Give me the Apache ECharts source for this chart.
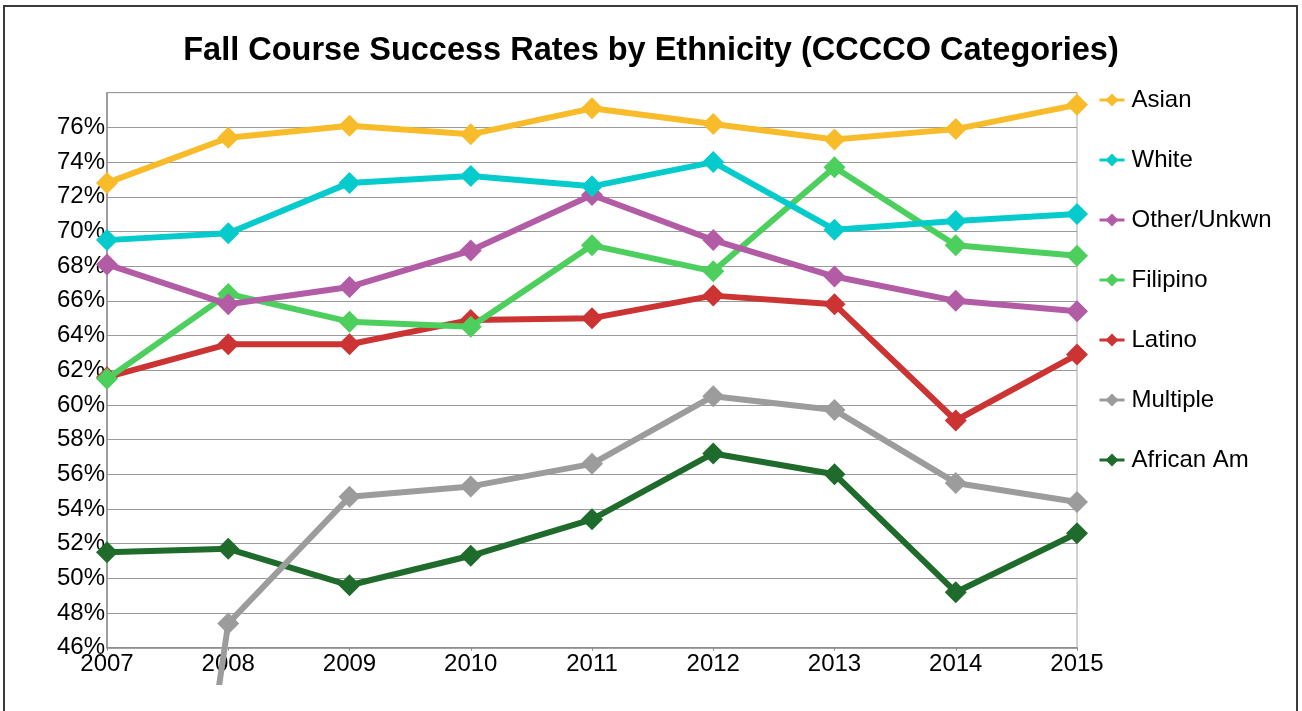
<!DOCTYPE html>
<html>
<head>
<meta charset="utf-8">
<script src="https://cdn.jsdelivr.net/npm/echarts@6/dist/echarts.min.js"></script>
<style>
  html, body { margin: 0; padding: 0; background: #ffffff; overflow: hidden; }
  #frame { position: absolute; left: 3px; top: 5px; width: 1295px; height: 800px;
           box-sizing: border-box; border: 2px solid #3a3a3a; }
  #chart { position: absolute; left: 0; top: 0; width: 1302px; height: 685px; }
</style>
</head>
<body>
<div id="frame"></div>
<div id="chart"></div>
<script>
// ---- data ----
const years = ['2007', '2008', '2009', '2010', '2011', '2012', '2013', '2014', '2015'];
const asian      = [72.8, 75.4, 76.1, 75.6, 77.1, 76.2, 75.3, 75.9, 77.3];
const white      = [69.5, 69.9, 72.8, 73.2, 72.6, 74.0, 70.1, 70.6, 71.0];
const otherUnkwn = [68.1, 65.8, 66.8, 68.9, 72.1, 69.5, 67.4, 66.0, 65.4];
const filipino   = [61.5, 66.4, 64.8, 64.5, 69.2, 67.7, 73.7, 69.2, 68.6];
const latino     = [61.6, 63.5, 63.5, 64.9, 65.0, 66.3, 65.8, 59.1, 62.9];
const multiple   = [0, 47.4, 54.7, 55.3, 56.6, 60.5, 59.7, 55.5, 54.4];
const africanAm  = [51.5, 51.7, 49.6, 51.3, 53.4, 57.2, 56.0, 49.2, 52.6];
const seriesNames = ['Asian', 'White', 'Other/Unkwn', 'Filipino', 'Latino', 'Multiple', 'African Am'];
const seriesValues = [asian, white, otherUnkwn, filipino, latino, multiple, africanAm];
const yMin = 46, yMax = 78, yStep = 2;
const titleText = 'Fall Course Success Rates by Ethnicity (CCCCO Categories)';

// ---- styles ----
const colors = ['#f8bc2b', '#05cbcc', '#b35ca6', '#4dcf5e', '#cc3333', '#9c9c9c', '#1f6b2c'];
const FONT = '"Liberation Sans", Arial, sans-serif';

const chart = echarts.init(document.getElementById('chart'), null, { renderer: 'canvas' });
const series = seriesNames.map((name, i) => ({
  name: name,
  type: 'line',
  data: seriesValues[i],
  clip: false,
  z: 20 - i,
  symbol: 'diamond',
  symbolSize: 22,
  showAllSymbol: true,
  color: colors[i],
  lineStyle: { width: 6, color: colors[i] },
  itemStyle: { color: colors[i] },
  emphasis: { disabled: true },
  animation: false
}));

chart.setOption({
  animation: false,
  backgroundColor: 'transparent',
  title: {
    text: titleText,
    left: 'center',
    top: 30,
    textStyle: { fontFamily: FONT, fontSize: 32.5, fontWeight: 'bold', color: '#000' }
  },
  legend: {
    orient: 'vertical',
    left: 1098,
    top: 88,
    data: seriesNames,
    itemWidth: 25,
    itemHeight: 16,
    itemGap: 36,
    padding: 0,
    lineStyle: { width: 3 },
    textStyle: { fontFamily: FONT, fontSize: 24, color: '#000', padding: [0, 0, 0, 2] }
  },
  grid: {
    left: 107,
    right: 225,
    top: 92.7,
    bottom: 37.3,
    show: true,
    borderColor: '#a6a6a6',
    borderWidth: 1,
    containLabel: false
  },
  xAxis: {
    type: 'category',
    data: years,
    boundaryGap: false,
    axisLine: { show: true, lineStyle: { color: '#8c8c8c', width: 1.5 } },
    axisTick: { show: true, alignWithLabel: true, length: 3, lineStyle: { color: '#8c8c8c' } },
    axisLabel: { fontFamily: FONT, fontSize: 24, color: '#000', margin: 5 },
    splitLine: { show: false }
  },
  yAxis: {
    type: 'value',
    min: yMin,
    max: yMax,
    interval: yStep,
    axisLine: { show: true, lineStyle: { color: '#8c8c8c', width: 1.5 } },
    axisTick: { show: false },
    axisLabel: {
      fontFamily: FONT, fontSize: 24, color: '#000', margin: 2,
      showMaxLabel: false,
      formatter: v => v + '%'
    },
    splitLine: { show: true, lineStyle: { color: '#9a9a9a', width: 1 } }
  },
  series: series
});
</script>
</body>
</html>
